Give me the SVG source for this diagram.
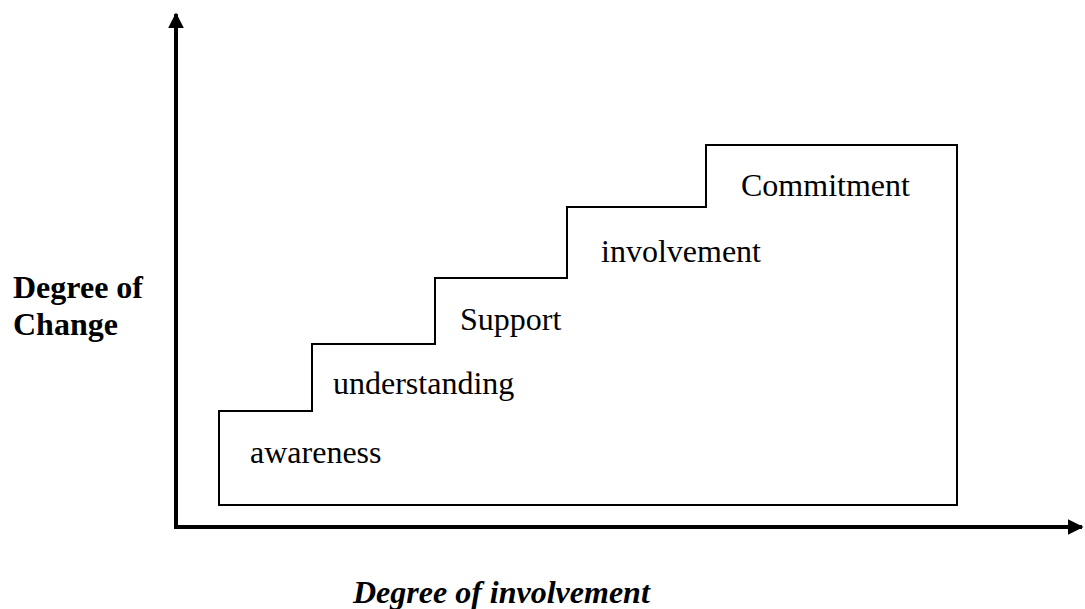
<svg xmlns="http://www.w3.org/2000/svg" width="1085" height="609" viewBox="0 0 1085 609">
  <style>
    .axis { stroke: #000; stroke-width: 4; fill: none; }
    .stair { stroke: #000; stroke-width: 2; fill: none; }
    .lbl { font-family: "Liberation Serif", "Times New Roman", serif; font-size: 32px; fill: #000; }
    .axlbl { font-family: "Liberation Serif", "Times New Roman", serif; font-size: 32px; font-weight: bold; fill: #000; }
  </style>
  <defs>
    <marker id="arrow" viewBox="0 0 10 10" refX="9" refY="5" markerWidth="4" markerHeight="4" markerUnits="strokeWidth" orient="auto">
      <path d="M0,0 L10,5 L0,10 Z" fill="#000"/>
    </marker>
  </defs>
  <rect width="1085" height="609" fill="#fff"/>

  <!-- axes -->
  <g id="connectors">
    <line class="axis" x1="176" y1="529" x2="176" y2="14" marker-end="url(#arrow)"/>
    <line class="axis" x1="174" y1="527" x2="1082" y2="527" marker-end="url(#arrow)"/>
  </g>

  <!-- staircase outline -->
  <g id="staircase">
    <path class="stair" d="M219,505 L219,411 L312,411 L312,344 L435,344 L435,278 L567,278 L567,207 L706,207 L706,145 L957,145 L957,505 Z"/>
  </g>

  <g id="step-awareness"><text class="lbl" x="250" y="463">awareness</text></g>
  <g id="step-understanding"><text class="lbl" x="333" y="394">understanding</text></g>
  <g id="step-support"><text class="lbl" x="460" y="330">Support</text></g>
  <g id="step-involvement"><text class="lbl" x="601" y="262">involvement</text></g>
  <g id="step-commitment"><text class="lbl" x="741" y="196">Commitment</text></g>

  <g id="label-y">
    <text class="axlbl" x="13" y="298">Degree of</text>
    <text class="axlbl" x="13" y="335">Change</text>
  </g>
  <g id="label-x">
    <text class="axlbl" x="353" y="603" font-style="italic">Degree of involvement</text>
  </g>
</svg>
